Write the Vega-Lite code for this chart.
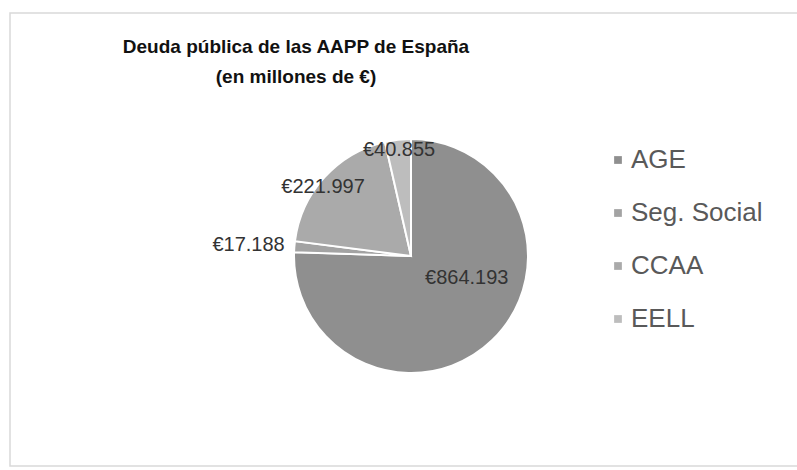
{
  "$schema": "https://vega.github.io/schema/vega-lite/v6.json",
  "autosize": {"type": "none"},
  "padding": {"left": 10, "top": 13, "right": 0, "bottom": 4},
  "width": 800,
  "height": 453,
  "background": "#ffffff",
  "title": {
    "text": ["Deuda pública de las AAPP de España", "(en millones de €)"],
    "font": "Liberation Sans",
    "fontSize": 19,
    "fontWeight": "bold",
    "color": "#111111",
    "anchor": "middle",
    "frame": "group",
    "lineHeight": 30,
    "offset": -74,
    "dx": -114
  },
  "data": {
    "values": [
      {"categoria": "AGE", "valor": 864193, "etiqueta": "€864.193", "orden": 1},
      {"categoria": "Seg. Social", "valor": 17188, "etiqueta": "€17.188", "orden": 2},
      {"categoria": "CCAA", "valor": 221997, "etiqueta": "€221.997", "orden": 3},
      {"categoria": "EELL", "valor": 40855, "etiqueta": "€40.855", "orden": 4}
    ]
  },
  "encoding": {
    "theta": {"field": "valor", "type": "quantitative", "stack": true},
    "order": {"field": "orden", "type": "quantitative"},
    "x": {"value": 401},
    "y": {"value": 243}
  },
  "layer": [
    {
      "mark": {"type": "arc", "outerRadius": 117, "stroke": "#ffffff", "strokeWidth": 2},
      "encoding": {
        "color": {
          "field": "categoria",
          "type": "nominal",
          "scale": {
            "domain": ["AGE", "Seg. Social", "CCAA", "EELL"],
            "range": ["#8f8f8f", "#a3a3a3", "#aaaaaa", "#bdbdbd"]
          },
          "legend": {
            "title": null,
            "orient": "none",
            "legendX": 595,
            "legendY": 134,
            "symbolType": "square",
            "symbolSize": 60,
            "symbolStrokeWidth": 0,
            "labelFont": "Liberation Sans",
            "labelFontSize": 26,
            "labelColor": "#595959",
            "labelOffset": 0,
            "rowPadding": 27,
            "padding": 0
          }
        }
      }
    },
    {
      "mark": {"type": "text", "radius": 60, "dx": 14, "dy": -21, "font": "Liberation Sans", "fontSize": 20, "color": "#333333"},
      "encoding": {"text": {"condition": {"test": "datum.categoria === 'AGE'", "field": "etiqueta"}, "value": ""}}
    },
    {
      "mark": {"type": "text", "radius": 163, "dy": 2, "font": "Liberation Sans", "fontSize": 20, "color": "#333333"},
      "encoding": {"text": {"condition": {"test": "datum.categoria === 'Seg. Social'", "field": "etiqueta"}, "value": ""}}
    },
    {
      "mark": {"type": "text", "radius": 112, "dx": -5, "dy": 6, "font": "Liberation Sans", "fontSize": 20, "color": "#333333"},
      "encoding": {"text": {"condition": {"test": "datum.categoria === 'CCAA'", "field": "etiqueta"}, "value": ""}}
    },
    {
      "mark": {"type": "text", "radius": 107, "font": "Liberation Sans", "fontSize": 20, "color": "#333333"},
      "encoding": {"text": {"condition": {"test": "datum.categoria === 'EELL'", "field": "etiqueta"}, "value": ""}}
    }
  ],
  "config": {
    "view": {"stroke": "#d9d9d9", "strokeWidth": 1.5}
  }
}
